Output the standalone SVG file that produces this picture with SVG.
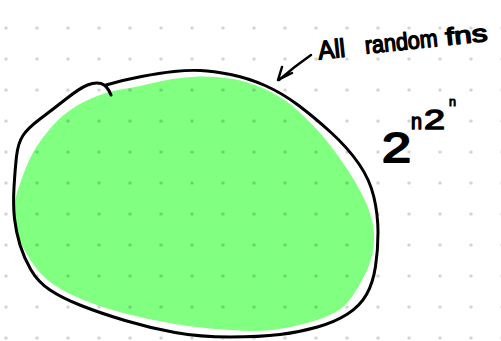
<svg xmlns="http://www.w3.org/2000/svg" width="501" height="341" viewBox="0 0 501 341">
  <style>
    .ink { fill: none; stroke: #000; stroke-width: 3; stroke-linecap: round; stroke-linejoin: round; }
    .hand { font-family: "Liberation Sans", "DejaVu Sans", sans-serif; fill: #000; stroke: #000; stroke-width: 1.4; stroke-linejoin: round; }
  </style>
  <defs>
    <pattern id="dots" x="-9.5" y="12.5" width="31" height="31" patternUnits="userSpaceOnUse">
      <circle cx="15.5" cy="15.5" r="1.6" fill="#000" fill-opacity="0.2"/>
    </pattern>
  </defs>
  <rect width="501" height="341" fill="#fff"/>
  <g id="set-fill">
    <path fill="#80ff80" d="M 14,215.5 Q 14,203 17,193 Q 20,183 25,170 Q 30,157 36,147.5 Q 42,138 51,127.5 Q 60,117 71,109.5 Q 82,102 96,96.5 Q 110,91 123.5,89 Q 137,87 148.5,84 Q 160,81 172.5,79 Q 185,77 199,76.5 Q 213,76 230,78.5 Q 247,81 263.5,88.5 Q 280,96 290,104 Q 300,112 313.5,126 Q 327,140 340,158.5 Q 353,177 361.5,193.5 Q 370,210 372.5,222.5 Q 375,235 373.5,247.5 Q 372,260 366,272.5 Q 360,285 352.5,296 Q 345,307 335,312.5 Q 325,318 309,322.5 Q 293,327 276.5,329.5 Q 260,332 230,330 Q 200,328 175,324 Q 150,320 125,313.5 Q 100,307 80,298.5 Q 60,290 49,281 Q 38,272 31,261 Q 24,250 19,239 Q 14,228 14,215.5 Z"/>
  </g>
  <rect id="grid" width="501" height="341" fill="url(#dots)"/>
  <g id="set-outline">
    <path class="ink" d="M 111,95 Q 107,85 101,83.5 Q 95,82 87.5,85 Q 80,88 66,99 Q 52,110 40,119 Q 28,128 23,135.5 Q 18,143 16.5,156.5 Q 15,170 14,187.5 Q 13,205 14.5,218.5 Q 16,232 20,245 Q 24,258 31,270 Q 38,282 50,290 Q 62,298 81,305.5 Q 100,313 125,320.5 Q 150,328 175,332.5 Q 200,337 230,337 Q 260,337 280,334.5 Q 300,332 317.5,327 Q 335,322 347.5,314 Q 360,306 366.5,294.5 Q 373,283 375.5,266.5 Q 378,250 378,232.5 Q 378,215 374,197.5 Q 370,180 359,164 Q 348,148 331,132.5 Q 314,117 298,105 Q 282,93 265,85.5 Q 248,78 230.5,74.5 Q 213,71 200.5,70.5 Q 188,70 174,71.5 Q 160,73 141.5,76.5 Q 123,80 106,85"/>
  </g>
  <g id="label">
    <path class="ink" style="stroke-width:2.5" d="M 311,55 Q 295,66 279,80 M 282,67 L 278,80 L 292,73"/>
    <g transform="rotate(-6 400 45)">
      <text class="hand" x="318" y="51" font-size="26" textLength="27" lengthAdjust="spacingAndGlyphs">All</text>
      <text class="hand" x="365" y="50" font-size="24" textLength="73" lengthAdjust="spacingAndGlyphs">random</text>
      <text class="hand" x="446" y="50" font-size="24" textLength="42" lengthAdjust="spacingAndGlyphs">fns</text>
    </g>
  </g>
  <g id="count">
    <text class="hand" style="stroke-width:2" x="382" y="162" font-size="42" textLength="29" lengthAdjust="spacingAndGlyphs">2</text>
    <text class="hand" x="411" y="129" font-size="22" textLength="11" lengthAdjust="spacingAndGlyphs">n</text>
    <text class="hand" x="424" y="129" font-size="28" textLength="21" lengthAdjust="spacingAndGlyphs">2</text>
    <text class="hand" style="stroke-width:1" x="449" y="106" font-size="13" textLength="7" lengthAdjust="spacingAndGlyphs">n</text>
  </g>
</svg>
